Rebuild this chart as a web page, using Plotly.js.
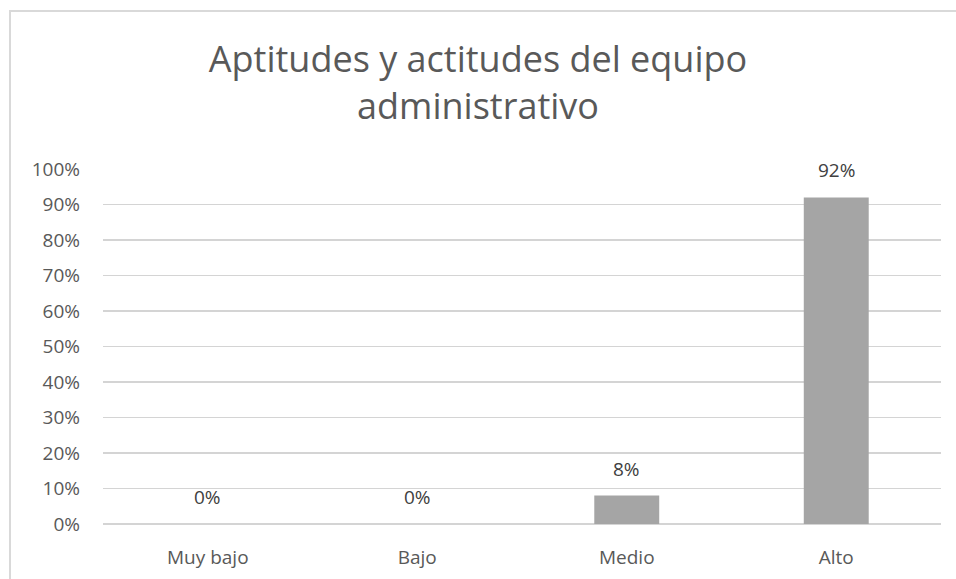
<!DOCTYPE html>
<html>
<head>
<meta charset="utf-8">
<script src="https://cdn.plot.ly/plotly-3.0.1.min.js"></script>
<style>
  body { margin: 0; background: #fff; }
  #frame { position: absolute; left: 9px; top: 10px; width: 947px; height: 569px;
           border-left: 2px solid #d9d9d9; border-top: 2px solid #d9d9d9; }
  #plot { position: absolute; left: 0; top: 0; width: 956px; height: 579px; }
</style>
</head>
<body>
<div id="frame"></div>
<div id="plot"></div>
<script>
// categories and values
var categories = ["Muy bajo", "Bajo", "Medio", "Alto"];
var values = [0, 0, 0.08, 0.92];
var labels = ["0%", "0%", "8%", "92%"];

var trace = {
  x: categories,
  y: values,
  type: "bar",
  marker: { color: "#a5a5a5" },
  hoverinfo: "none"
};

// data labels above the bars
var notes = categories.map(function (c, i) {
  return {
    x: c, y: values[i], text: labels[i],
    xref: "x", yref: "y",
    showarrow: false, yanchor: "bottom", yshift: 12,
    font: { family: "Open Sans", size: 19, color: "#404040" }
  };
});

var layout = {
  width: 956,
  height: 579,
  paper_bgcolor: "rgba(0,0,0,0)",
  plot_bgcolor: "rgba(0,0,0,0)",
  margin: { l: 103, r: 15, t: 169, b: 55 },
  title: {
    text: "Aptitudes y actitudes del equipo<br>administrativo",
    font: { family: "Open Sans", size: 36, color: "#595959" },
    x: 0.5, xanchor: "center",
    y: 0.875, yanchor: "top"
  },
  bargap: 0.69,
  showlegend: false,
  annotations: notes,
  xaxis: {
    tickfont: { family: "Open Sans", size: 19, color: "#595959" },
    showline: false,
    ticks: "",
    ticklabelstandoff: 20
  },
  yaxis: {
    range: [0, 1],
    dtick: 0.1,
    tickformat: ".0%",
    tickfont: { family: "Open Sans", size: 19, color: "#595959" },
    gridcolor: "#d4d4d4",
    gridwidth: 1.5,
    zeroline: true,
    zerolinecolor: "#d4d4d4",
    zerolinewidth: 1.5,
    ticks: "",
    ticklabelstandoff: 22
  }
};

Plotly.newPlot("plot", [trace], layout, { displayModeBar: false, staticPlot: true });
</script>
</body>
</html>
